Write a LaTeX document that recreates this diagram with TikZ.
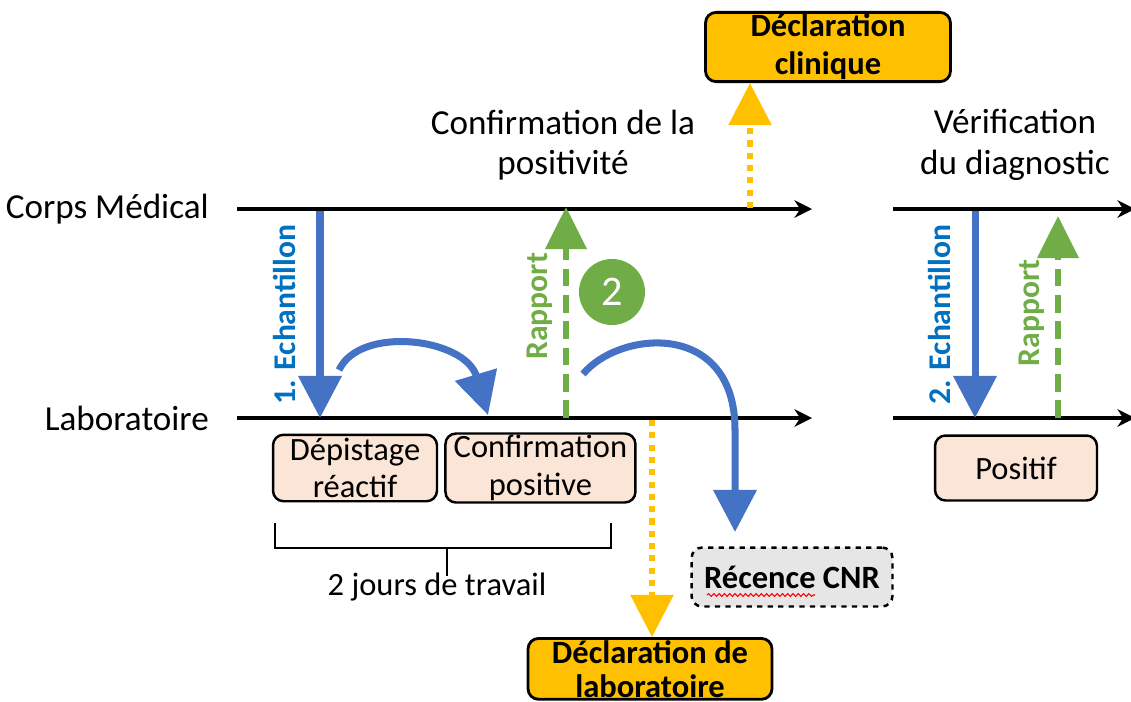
\documentclass[tikz,border=0pt]{standalone}
\usepackage{fontspec}
\setmainfont{Carlito}
\usetikzlibrary{arrows.meta,positioning,decorations.pathmorphing}
\definecolor{bleu}{RGB}{68,114,196}
\definecolor{bleutxt}{RGB}{0,112,192}
\definecolor{vert}{RGB}{112,173,71}
\definecolor{jaune}{RGB}{255,192,0}
\definecolor{saumon}{RGB}{251,229,214}
\definecolor{grisclair}{RGB}{231,230,230}
\tikzstyle{axe} = [draw, line width=2.6pt, -{Stealth[length=10pt,width=10pt]}]
\tikzstyle{echant} = [draw=bleu, line width=4pt, -{Triangle[length=24pt,width=24pt]}]
\tikzstyle{rapport} = [draw=vert, line width=3.6pt, dash pattern=on 10pt off 5pt, -{Triangle[length=24pt,width=23pt]}]
\tikzstyle{decl} = [draw=jaune, line width=3pt, dash pattern=on 3.5pt off 3.5pt, -{Triangle[length=24pt,width=24pt]}]
\tikzstyle{labbox} = [rectangle, draw, line width=1.4pt, fill=saumon, rounded corners=6pt,
    align=center, minimum height=1.33cm, inner sep=1pt, font=\fontsize{18.5}{21.5}\selectfont]
\tikzstyle{declbox} = [rectangle, draw, line width=1.6pt, fill=jaune, rounded corners=6pt,
    align=center, minimum width=4.9cm, minimum height=1.32cm, inner sep=1pt, font=\fontsize{18.5}{21.5}\selectfont\bfseries]
\tikzstyle{titre} = [align=center, font=\fontsize{20}{23}\selectfont]
\tikzstyle{etiq} = [midway, rotate=90, anchor=south, inner sep=6pt, font=\fontsize{18}{20}\selectfont\bfseries]

\begin{document}
\begin{tikzpicture}[x=0.02cm, y=-0.02cm]
    \useasboundingbox (0,0) rectangle (1131,701);
    % Place nodes
    \node [titre, anchor=east] (corps) at (215,209) {Corps Médical};
    \node [titre, anchor=east] (labo)  at (215,418) {Laboratoire};
    \node [titre] (confirm) at (563,145) {Confirmation de la\\positivité};
    \node [titre] (verif)   at (1015,145) {Vérification\\du diagnostic};

    \coordinate (corpsA) at (237,209); \coordinate (corpsB) at (812,209);
    \coordinate (corpsC) at (893,209); \coordinate (corpsD) at (1135,209);
    \coordinate (laboA)  at (237,418); \coordinate (laboB)  at (812,418);
    \coordinate (laboC)  at (893,418); \coordinate (laboD)  at (1135,418);

    \node [labbox, minimum width=3.28cm] (depistage) at (355,468) {Dépistage\\réactif};
    \node [labbox, minimum width=3.8cm, right=0.12cm of depistage] (confpos) {Confirmation\\positive};
    \node [labbox, minimum width=3.24cm, minimum height=1.3cm] (positif) at (1016,468) {Positif};

    \node [declbox] (declclin) at (828,47) {Déclaration\\clinique};
    \node [declbox, minimum width=4.88cm, minimum height=0pt, inner ysep=1pt, anchor=north,
        font=\fontsize{18.5}{19.5}\selectfont\bfseries] (decllabo) at (650,637) {Déclaration de\\laboratoire};
    \node [rectangle, draw, dashed, line width=1.4pt, fill=grisclair, rounded corners=6pt,
        minimum width=4.02cm, minimum height=1.18cm, font=\fontsize{18.5}{22}\selectfont\bfseries] (cnr) at (792,577) {Récence CNR};
    \draw [red, line width=0.6pt, decorate, decoration={snake, amplitude=0.8pt, segment length=3pt}] (707,595) -- (815,595);

    \node [circle, fill=vert, minimum size=1.32cm, inner sep=0pt, text=white, font=\fontsize{24}{28}\selectfont] (deux) at (612,292) {2};

    \coordinate (ech1a) at (320,211); \coordinate (ech1b) at (320,418);
    \coordinate (ech2a) at (975,211); \coordinate (ech2b) at (975,418);
    \coordinate (rap1a) at (566,418); \coordinate (rap1b) at (566,207);
    \coordinate (rap2a) at (1058,418); \coordinate (rap2b) at (1058,216);
    \coordinate (arc1a) at (339,370); \coordinate (arc1b) at (488,415);
    \coordinate (arc2a) at (583,374); \coordinate (arc2b) at (735,532);
    \coordinate (clin) at (750,208); \coordinate (lab) at (652,420);

    % time lines
    \path [axe] (corpsA) -- (corpsB);
    \path [axe] (corpsC) -- (corpsD);
    \path [axe] (laboA) -- (laboB);
    \path [axe] (laboC) -- (laboD);

    \path [echant] (ech1a) -- node [etiq, inner sep=12pt, text=bleutxt] {1. Echantillon} (ech1b);
    \path [echant] (ech2a) -- node [etiq, inner sep=12pt, text=bleutxt] {2. Echantillon} (ech2b);
    \path [rapport] (rap1a) -- node [etiq, pos=0.53, text=vert] {Rapport} (rap1b);
    \path [rapport] (rap2a) -- node [etiq, pos=0.52, text=vert] {Rapport} (rap2b);

    \path [echant] (arc1a) .. controls (360,325) and (465,338) .. (arc1b);
    \path [echant] (arc2a) .. controls (620,330) and (735,320) .. (735,430) -- (arc2b);

    \path [decl] (clin) -- (declclin.south -| clin);
    \path [decl] (lab) -- (decllabo.north -| lab);

    % bracket
    \coordinate (brL) at (275,523); \coordinate (brR) at (611,523);
    \draw [line width=1.4pt] (brL) -- ++(0,25) -| (brR);
    \node [titre, font=\fontsize{18.5}{22}\selectfont] (jours) at (437,587) {2 jours de travail};
    \draw [line width=1.4pt] (447,548) -- (447,576);
\end{tikzpicture}
\end{document}
